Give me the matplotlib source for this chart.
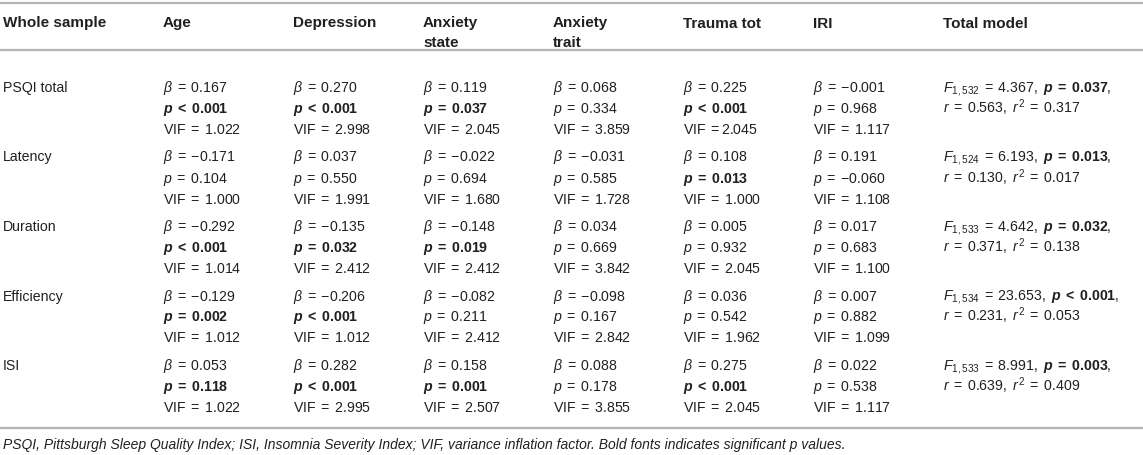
import matplotlib
matplotlib.use("Agg")
import matplotlib.pyplot as plt

plt.rcParams['font.family'] = ['Liberation Sans', 'DejaVu Sans']
plt.rcParams['mathtext.fontset'] = 'custom'
plt.rcParams['mathtext.rm'] = 'Liberation Sans'
plt.rcParams['mathtext.it'] = 'Liberation Sans:italic'
plt.rcParams['mathtext.bf'] = 'Liberation Sans:bold'
plt.rcParams['mathtext.bfit'] = 'Liberation Sans:bold:italic'

# ---------------- data ----------------
header_first = "Whole sample"
col_labels = ["Age", "Depression", "Anxiety\nstate", "Anxiety\ntrait", "Trauma tot", "IRI"]
model_label = "Total model"
row_labels = ["PSQI total", "Latency", "Duration", "Efficiency", "ISI"]

beta = [
    [0.167, 0.270, 0.119, 0.068, 0.225, -0.001],
    [-0.171, 0.037, -0.022, -0.031, 0.108, 0.191],
    [-0.292, -0.135, -0.148, 0.034, 0.005, 0.017],
    [-0.129, -0.206, -0.082, -0.098, 0.036, 0.007],
    [0.053, 0.282, 0.158, 0.088, 0.275, 0.022],
]
p_rel = [
    ["<", "<", "=", "=", "<", "="],
    ["=", "=", "=", "=", "=", "="],
    ["<", "=", "=", "=", "=", "="],
    ["=", "<", "=", "=", "=", "="],
    ["=", "<", "=", "=", "<", "="],
]
p_val = [
    [0.001, 0.001, 0.037, 0.334, 0.001, 0.968],
    [0.104, 0.550, 0.694, 0.585, 0.013, -0.060],
    [0.001, 0.032, 0.019, 0.669, 0.932, 0.683],
    [0.002, 0.001, 0.211, 0.167, 0.542, 0.882],
    [0.118, 0.001, 0.001, 0.178, 0.001, 0.538],
]
p_sig = [
    [True, True, True, False, True, False],
    [False, False, False, False, True, False],
    [True, True, True, False, False, False],
    [True, True, False, False, False, False],
    [True, True, True, False, True, False],
]
vif = [
    [1.022, 2.998, 2.045, 3.859, 2.045, 1.117],
    [1.000, 1.991, 1.680, 1.728, 1.000, 1.108],
    [1.014, 2.412, 2.412, 3.842, 2.045, 1.100],
    [1.012, 1.012, 2.412, 2.842, 1.962, 1.099],
    [1.022, 2.995, 2.507, 3.855, 2.045, 1.117],
]
vif_nospace = [(0, 4)]

F_df = [532, 524, 533, 534, 533]
F_val = [4.367, 6.193, 4.642, 23.653, 8.991]
model_p_rel = ["=", "=", "=", "<", "="]
model_p = [0.037, 0.013, 0.032, 0.001, 0.003]
r_val = [0.563, 0.130, 0.371, 0.231, 0.639]
r2_val = [0.317, 0.017, 0.138, 0.053, 0.409]

footnote = ("PSQI, Pittsburgh Sleep Quality Index; ISI, Insomnia Severity Index; "
            "VIF, variance inflation factor. Bold fonts indicates significant p values.")

# ---------------- layout ----------------
W, H = 1143, 455
fig = plt.figure(figsize=(W / 100, H / 100), dpi=100)
ax = fig.add_axes([0, 0, 1, 1])
ax.set_xlim(0, W)
ax.set_ylim(H, 0)
ax.axis("off")

txt_color = "#231f20"
rule_color = "#b4b4b4"
col_x = [3] + [163 + 130 * k for k in range(7)]
fs = 10.2
hfs = 11.0
header_y = 22.5
header_dy = 19.5
row_y0 = 87
row_step = 69.5
line_dy = 21
base_off = 5.0
sp = r"\;"

def fmt(v):
    s = f"{abs(v):.3f}"
    return ("{-}" + s) if v < 0 else s

# rules
for y in (3, 49.5, 428):
    ax.plot([0, W], [y, y], color=rule_color, lw=1.6, solid_capstyle="butt")

# header
ax.text(col_x[0], header_y + base_off, header_first, fontsize=hfs, fontweight="bold",
        color=txt_color, va="baseline", ha="left")
for j, lab in enumerate(col_labels):
    for k, part in enumerate(lab.split("\n")):
        ax.text(col_x[j + 1], header_y + k * header_dy + base_off, part, fontsize=hfs,
                fontweight="bold", color=txt_color, va="baseline", ha="left")
ax.text(col_x[7], header_y + base_off, model_label, fontsize=hfs, fontweight="bold",
        color=txt_color, va="baseline", ha="left")

for i, rl in enumerate(row_labels):
    y = row_y0 + i * row_step
    ax.text(col_x[0], y + base_off, rl, fontsize=fs, color=txt_color, va="baseline", ha="left")
    for j in range(6):
        x = col_x[j + 1]
        ax.text(x, y + base_off, r"$\beta%s{=}%s%s$" % (sp, sp, fmt(beta[i][j])), fontsize=fs,
                color=txt_color, va="baseline", ha="left")
        rel = p_rel[i][j]
        if p_sig[i][j]:
            s = r"$\mathbfit{p}%s\mathbf{%s}%s\mathbf{%s}$" % (sp, rel, sp, fmt(p_val[i][j]))
        else:
            s = r"$p%s{%s}%s%s$" % (sp, rel, sp, fmt(p_val[i][j]))
        ax.text(x, y + line_dy + base_off, s, fontsize=fs, color=txt_color,
                va="baseline", ha="left")
        if (i, j) in vif_nospace:
            s = r"$\mathrm{VIF}%s{=}%s$" % (sp, fmt(vif[i][j]))
        else:
            s = r"$\mathrm{VIF}%s{=}%s%s$" % (sp, sp, fmt(vif[i][j]))
        ax.text(x, y + 2 * line_dy + base_off, s, fontsize=fs, color=txt_color,
                va="baseline", ha="left")
    # total model
    rel = model_p_rel[i]
    s1 = (r"$F_{1,%d}%s{=}%s%s,\ \mathbfit{p}%s\mathbf{%s}%s\mathbf{%s},$"
          % (F_df[i], sp, sp, fmt(F_val[i]), sp, rel, sp, fmt(model_p[i])))
    s2 = r"$r%s{=}%s%s,\ r^2%s{=}%s%s$" % (sp, sp, fmt(r_val[i]), sp, sp, fmt(r2_val[i]))
    ax.text(col_x[7], y + base_off, s1, fontsize=fs, color=txt_color, va="baseline", ha="left")
    ax.text(col_x[7], y + line_dy + base_off, s2, fontsize=fs, color=txt_color,
            va="baseline", ha="left")

ax.text(col_x[0], 445 + 4.5, footnote, fontsize=10, style="italic", color=txt_color,
        va="baseline", ha="left")

fig.savefig("out.png", dpi=100)
